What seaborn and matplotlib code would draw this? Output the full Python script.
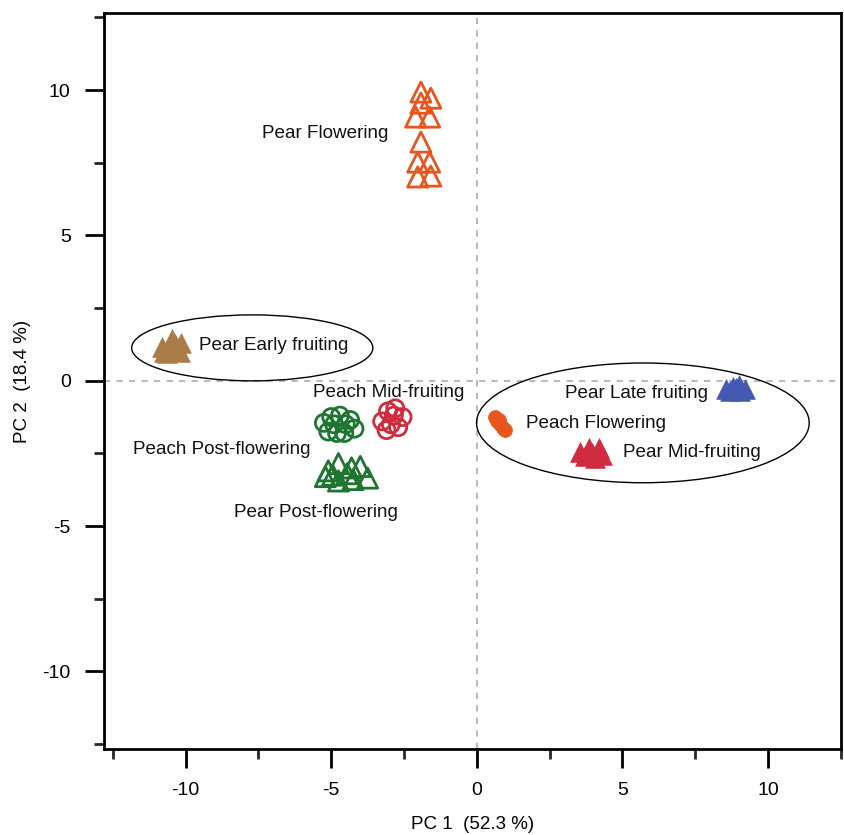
import matplotlib
matplotlib.use("Agg")
import matplotlib.pyplot as plt
from matplotlib.patches import Ellipse
import seaborn as sns
import pandas as pd

sns.set_style("white")
plt.rcParams['font.family'] = ['Liberation Sans', 'DejaVu Sans']
plt.rcParams['text.color'] = 'black'
plt.rcParams['axes.labelcolor'] = 'black'

# ---- data ----
pear_flowering_x = [-1.92, -1.58, -1.92, -2.10, -1.62, -1.92, -2.03, -1.62, -2.03, -1.58]
pear_flowering_y = [9.93, 9.72, 9.55, 9.07, 9.07, 8.21, 7.52, 7.52, 7.01, 7.04]

pear_early_x = [-10.8, -10.45, -10.15, -10.65, -10.2, -10.55, -10.75, -10.35]
pear_early_y = [1.15, 1.45, 1.3, 0.95, 1.0, 1.2, 1.0, 1.25]

peach_post_x = [-5.25, -5.0, -4.7, -4.35, -4.2, -5.1, -4.8, -4.55, -4.9, -4.5]
peach_post_y = [-1.45, -1.25, -1.2, -1.35, -1.65, -1.75, -1.8, -1.8, -1.5, -1.5]

peach_mid_x = [-3.05, -2.8, -2.55, -3.25, -2.95, -2.7, -3.1, -2.85]
peach_mid_y = [-1.05, -0.95, -1.25, -1.4, -1.5, -1.6, -1.7, -1.2]

pear_post_x = [-5.1, -4.75, -4.3, -4.0, -3.75, -4.75, -4.25, -4.95, -4.45, -5.2]
pear_post_y = [-3.1, -2.85, -3.0, -2.95, -3.35, -3.45, -3.4, -3.25, -3.2, -3.3]

peach_flowering_x = [0.62, 0.7, 0.8, 0.9, 0.95, 0.75]
peach_flowering_y = [-1.25, -1.4, -1.5, -1.62, -1.7, -1.35]

pear_late_x = [8.55, 8.8, 9.0, 9.2, 8.7, 9.05, 8.9]
pear_late_y = [-0.3, -0.2, -0.15, -0.3, -0.35, -0.35, -0.25]

pear_mid_x = [3.55, 3.85, 4.2, 3.7, 4.05, 4.3, 3.95]
pear_mid_y = [-2.45, -2.3, -2.3, -2.6, -2.65, -2.55, -2.5]

label_texts = ["Pear Flowering", "Pear Early fruiting", "Peach Mid-fruiting",
               "Peach Post-flowering", "Pear Post-flowering", "Pear Late fruiting",
               "Peach Flowering", "Pear Mid-fruiting"]
label_x = [-3.05, -9.55, -5.64, -11.82, -8.32, 3.02, 1.68, 5.02]
label_y = [8.52, 1.22, -0.40, -2.36, -4.53, -0.43, -1.46, -2.46]
label_ha = ["right", "left", "left", "left", "left", "left", "left", "left"]

ellipse_cx = [-7.71, 5.70]
ellipse_cy = [1.13, -1.45]
ellipse_w = [8.28, 11.42]
ellipse_h = [2.27, 4.12]

x_ticks = [-10, -5, 0, 5, 10]
y_ticks = [-10, -5, 0, 5, 10]

ORANGE = "#e9561d"
BROWN = "#a97b47"
GREEN = "#1d7630"
CRIMSON = "#d12b40"
BLUE = "#4659b2"

fig = plt.figure(figsize=(8.44, 8.35), dpi=100)
ax = fig.add_axes([0.1232, 0.1030, 0.8732, 0.8814])

ax.axhline(0, color="#bbbbbb", lw=1.5, ls=(0, (3, 3)), zorder=0)
ax.axvline(0, color="#bbbbbb", lw=1.5, ls=(0, (3, 3)), zorder=0)

groups = [
    (pear_flowering_x, pear_flowering_y, "^", ORANGE, False, 210),
    (pear_early_x, pear_early_y, "^", BROWN, True, 200),
    (peach_post_x, peach_post_y, "o", GREEN, False, 150),
    (peach_mid_x, peach_mid_y, "o", CRIMSON, False, 150),
    (pear_post_x, pear_post_y, "^", GREEN, False, 210),
    (peach_flowering_x, peach_flowering_y, "o", ORANGE, True, 100),
    (pear_late_x, pear_late_y, "^", BLUE, True, 200),
    (pear_mid_x, pear_mid_y, "^", CRIMSON, True, 200),
]
for gx, gy, mk, col, filled, size in groups:
    df = pd.DataFrame({"x": gx, "y": gy})
    if filled:
        sns.scatterplot(data=df, x="x", y="y", ax=ax, marker=mk, s=size,
                        color=col, edgecolor=col, linewidth=0.5, zorder=3)
    else:
        sns.scatterplot(data=df, x="x", y="y", ax=ax, marker=mk, s=size,
                        facecolor="none", edgecolor=col, linewidth=2.0, zorder=3)

for cx, cy, w, h in zip(ellipse_cx, ellipse_cy, ellipse_w, ellipse_h):
    ax.add_patch(Ellipse((cx, cy), w, h, fill=False, edgecolor="black", lw=1.0, zorder=2))

for t, lx, ly, ha in zip(label_texts, label_x, label_y, label_ha):
    ax.text(lx, ly, t, ha=ha, va="center", fontsize=13.6, color="#111111", zorder=4)

ax.set_xlim(-12.8, 12.5)
ax.set_ylim(-12.67, 12.65)
ax.set_xticks(x_ticks)
ax.set_yticks(y_ticks)
ax.set_xticklabels([str(v) for v in x_ticks])
ax.set_yticklabels([str(v) for v in y_ticks])
ax.set_xticks([-12.5, -7.5, -2.5, 2.5, 7.5, 12.5], minor=True)
ax.set_yticks([-12.5, -7.5, -2.5, 2.5, 7.5, 12.5], minor=True)
ax.tick_params(axis="both", which="major", direction="out", length=14, width=2,
               labelsize=14, pad=10, colors="black", labelcolor="black")
ax.tick_params(axis="both", which="minor", direction="out", length=7, width=2)
ax.tick_params(axis="x", which="both", bottom=True, top=False)
ax.tick_params(axis="y", which="both", left=True, right=False)
for sp in ax.spines.values():
    sp.set_visible(True)
    sp.set_color("black")
    sp.set_linewidth(2)

ax.set_xlabel("PC 1  (52.3 %)", fontsize=13.5, va="center", color="black")
ax.set_ylabel("PC 2  (18.4 %)", fontsize=13.5, va="center", color="black")
ax.xaxis.set_label_coords(0.5, -0.103)
ax.yaxis.set_label_coords(-0.111, 0.5)

fig.savefig("out.png", dpi=100)
